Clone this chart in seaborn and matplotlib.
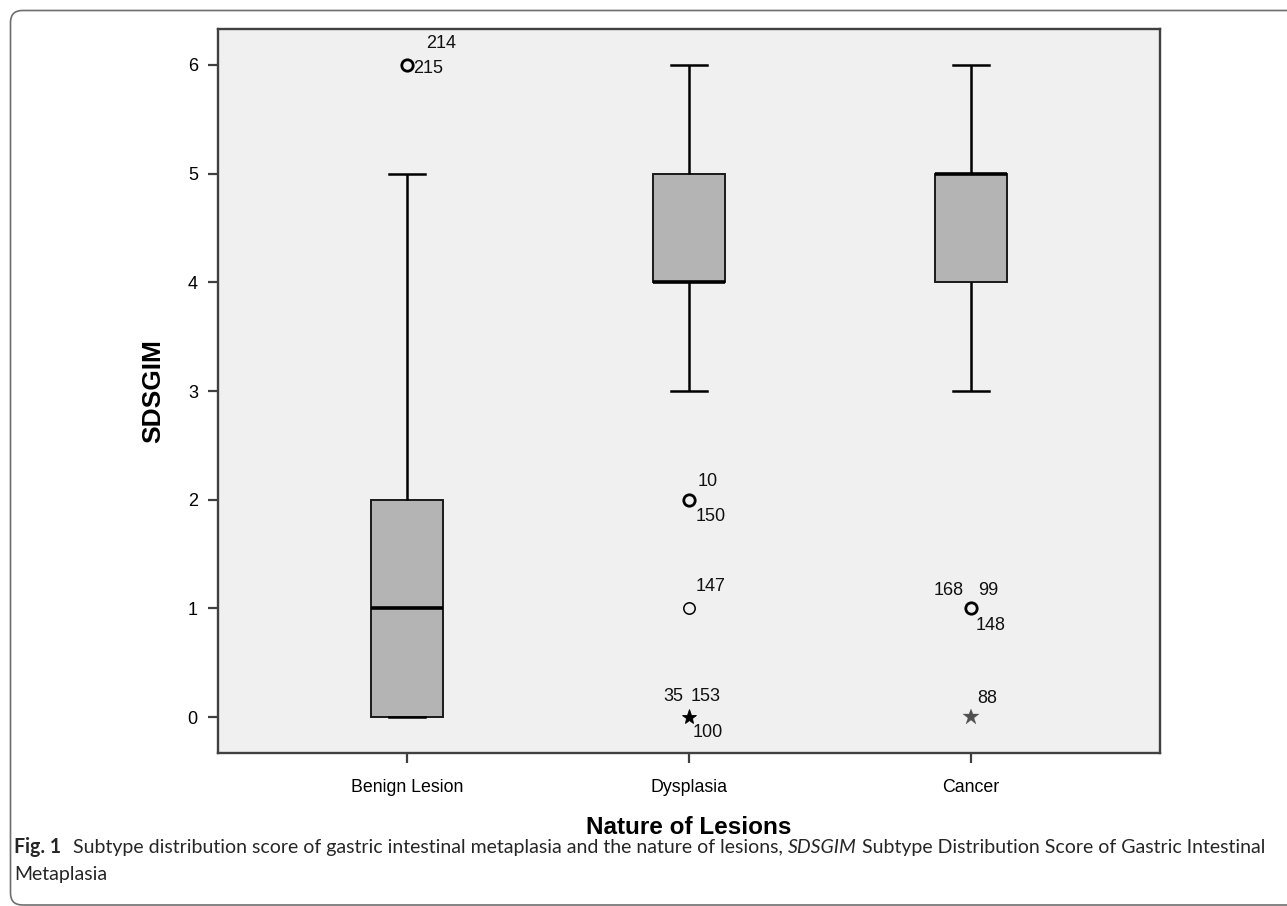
import numpy as np
import pandas as pd
import matplotlib
matplotlib.use("Agg")
import matplotlib.pyplot as plt
import seaborn as sns
from matplotlib.patches import FancyBboxPatch
from matplotlib.transforms import IdentityTransform
from matplotlib import font_manager

# ---------------- data ----------------
categories = ["Benign Lesion", "Dysplasia", "Cancer"]
score_levels = [0, 1, 2, 3, 4, 5, 6]
benign_counts = [30, 25, 25, 8, 5, 3, 2]
dysplasia_counts = [3, 1, 2, 10, 40, 30, 10]
cancer_counts = [1, 3, 0, 8, 20, 40, 10]

# outliers (SPSS style): value, group, case numbers
outlier_groups = ["Benign Lesion", "Dysplasia", "Dysplasia", "Dysplasia", "Cancer", "Cancer"]
outlier_values = [6, 2, 1, 0, 1, 0]
outlier_extreme = [False, False, False, True, False, True]
outlier_cases = [["214", "215"], ["10", "150"], ["147"], ["35", "153", "100"],
                 ["168", "99", "148"], ["88"]]

x_label = "Nature of Lesions"
y_label = "SDSGIM"
y_ticks = [0, 1, 2, 3, 4, 5, 6]

# label placement (pixel offsets from marker, alignment) -- style only
case_offsets = [[(19, 21, "left"), (6, -4, "left")],
                [(9, 18, "left"), (7, -17, "left")],
                [(7, 22, "left")],
                [(-6, 21, "right"), (2, 21, "left"), (4, -15, "left")],
                [(-7, 18, "right"), (7, 18, "left"), (5, -17, "left")],
                [(6, 19, "left")]]

# ---------------- fonts ----------------
avail = set(font_manager.get_font_names())
def pick(*names):
    for n in names:
        if n in avail:
            return n
    return "DejaVu Sans"
arial = pick("Liberation Sans", "Arial", "DejaVu Sans")
capfont = pick("Lato", "Open Sans", "Noto Sans", "DejaVu Sans")

plt.rcParams["font.family"] = [arial, "DejaVu Sans"]

rows = []
for cat, counts in zip(categories, [benign_counts, dysplasia_counts, cancer_counts]):
    for lvl, c in zip(score_levels, counts):
        rows += [(cat, lvl)] * c
df = pd.DataFrame(rows, columns=[x_label, y_label])

W, H = 1287, 906
fig = plt.figure(figsize=(W / 100, H / 100), dpi=100)
ax = fig.add_axes([218 / W, 1 - 753 / H, 942 / W, 724 / H])
ax.set_facecolor("#f0f0f0")

sns.boxplot(data=df, x=x_label, y=y_label, order=categories, color="#b4b4b4",
            saturation=1, width=0.255, linecolor="black", linewidth=1.4,
            showfliers=False, whis=1.5, ax=ax,
            medianprops=dict(linewidth=2.6, color="black"),
            whiskerprops=dict(linewidth=1.8, color="black"),
            capprops=dict(linewidth=1.8, color="black"),
            boxprops=dict(linewidth=1.4, edgecolor="#1a1a1a"))

# outliers
for grp, val, ext, cases, offs in zip(outlier_groups, outlier_values, outlier_extreme,
                                      outlier_cases, case_offsets):
    xpos = categories.index(grp)
    multi = len(cases) > 1
    if ext:
        ax.plot([xpos], [val], marker="*", ms=11 if multi else 12,
                color="black" if multi else "#505050",
                mec="black" if multi else "#505050", mew=0.6 if multi else 0.2,
                ls="none", zorder=5)
    else:
        ax.plot([xpos], [val], marker="o", ms=8.2, mfc="none", mec="black",
                mew=2.0 if multi else 1.1, ls="none", zorder=5)
    for case, (dx, dy, ha) in zip(cases, offs):
        ax.annotate(case, (xpos, val), xytext=(dx, dy), textcoords="offset pixels",
                    ha=ha, va="center", fontsize=13, color="#111111")

ax.set_xlim(-0.670, 2.670)
ax.set_ylim(-0.331, 6.331)
ax.set_yticks(y_ticks)
ax.set_yticklabels([str(t) for t in y_ticks])
for s in ax.spines.values():
    s.set_color("#404040")
    s.set_linewidth(1.7)
ax.tick_params(axis="y", direction="out", length=7.5, width=1.6, pad=7,
               labelsize=13, colors="#404040", labelcolor="black")
ax.tick_params(axis="x", direction="out", length=7.5, width=1.6, pad=11,
               labelsize=12.8, colors="#404040", labelcolor="black")
ax.set_ylabel(y_label, fontsize=19, fontweight="bold", va="center")
ax.yaxis.set_label_coords((153 - 218) / 942, 0.5)
ax.set_xlabel(x_label, fontsize=17.5, fontweight="bold", va="center")
ax.xaxis.set_label_coords(0.5, (753 - 828) / 724)

# figure frame (rounded)
frame = FancyBboxPatch((10.5, 1), 1400, H - 11.5, boxstyle="round,pad=0,rounding_size=12",
                       transform=IdentityTransform(), fill=False, edgecolor="#6e6e6e",
                       linewidth=1.2)
fig.add_artist(frame)

# caption
renderer = fig.canvas.get_renderer()
line1 = [("Fig. 1", "bold", "normal", 12),
         ("Subtype distribution score of gastric intestinal metaplasia and the nature of lesions,", "normal", "normal", 0),
         ("SDSGIM", "normal", "italic", 0),
         ("Subtype Distribution Score of Gastric Intestinal", "normal", "normal", 0)]

def place(fs, draw_list):
    for t in draw_list:
        t.remove()
    draw_list.clear()
    x = 14.0
    space = fs * 0.26 * 100 / 72
    for txt, wt, st, gap in line1:
        t = fig.text(x / W, 1 - 853 / H, txt, fontsize=fs, fontweight=wt, fontstyle=st,
                     family=[capfont, "DejaVu Sans"], va="baseline", ha="left", color="#262626")
        draw_list.append(t)
        w = t.get_window_extent(renderer).width
        x += w + (gap if gap else space)
    return x - space

texts = []
fs = 12.0
for _ in range(3):
    end = place(fs, texts)
    fs = fs * (1266 - 14) / (end - 14)
place(fs, texts)
fig.text(14 / W, 1 - 880 / H, "Metaplasia", fontsize=fs, family=[capfont, "DejaVu Sans"],
         va="baseline", ha="left", color="#262626")

fig.savefig("out.png", dpi=100, facecolor="white")
